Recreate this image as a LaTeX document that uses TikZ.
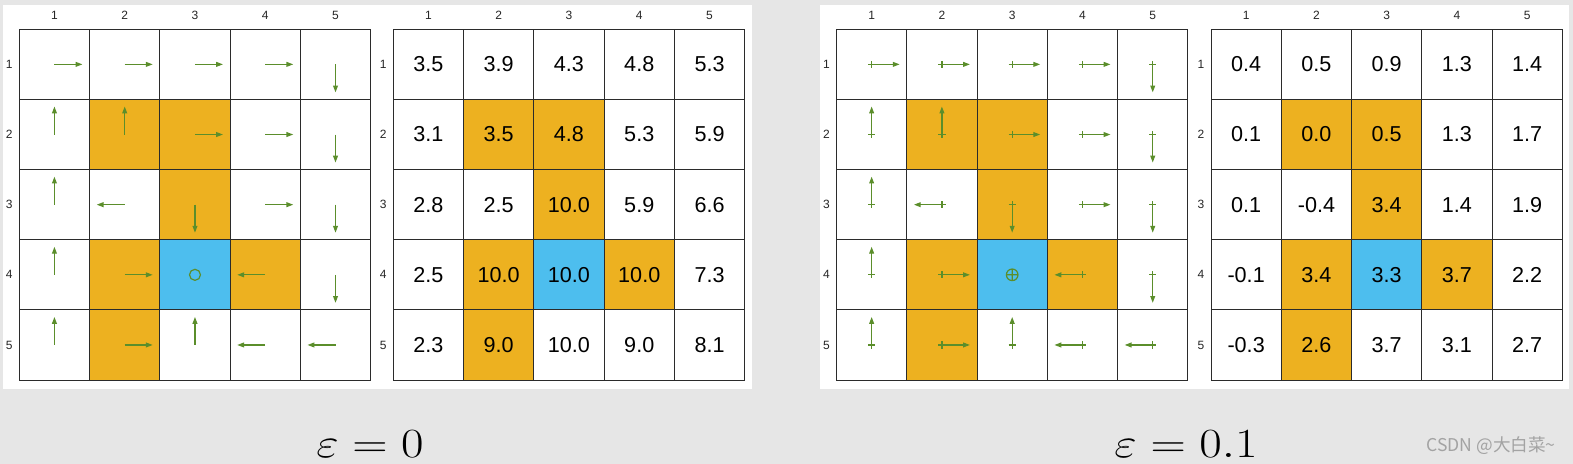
\documentclass[tikz,border=0pt]{standalone}
\usepackage{fontspec}
\usepackage{graphicx}
\usepackage{tikz}
\usetikzlibrary{arrows.meta}
\newfontfamily\numfont{Liberation Sans}
\newfontfamily\cjkfont{Noto Sans CJK SC}
\definecolor{paper}    {HTML}{E6E6E6}
\definecolor{cellOrange}{HTML}{EDB120}
\definecolor{cellBlue} {HTML}{4DBEEE}
\definecolor{actGreen} {HTML}{5B8E2B}
\definecolor{gridInk}  {HTML}{2B2B2B}
\definecolor{labelInk} {HTML}{262626}
\definecolor{markGray} {HTML}{A3A3A3}

\begin{document}
\begin{tikzpicture}[
  x=0.5pt, y=-0.5pt,
  cell/.style={rectangle, draw=gridInk, line width=0.5pt, inner sep=0pt,
               minimum width=35.135pt, minimum height=35.075pt,
               font=\numfont\fontsize{10.8}{12}\selectfont, text=black},
  idx/.style={inner sep=0pt, font=\numfont\fontsize{6}{7}\selectfont, text=labelInk},
  act/.style={draw=actGreen, line width=0.6pt, -{Triangle[length=3.4pt,width=2.4pt]}},
  stay/.style={draw=actGreen, line width=0.6pt},
  eps/.style={inner sep=0pt, anchor=base, font=\fontsize{20}{24}\selectfont}
]
% background and the two white panels
\fill[paper] (0,0) rectangle (1573,464);
\fill[white] (3,5) rectangle (752,389);
\fill[white] (820,5) rectangle (1569,389);

% policy grids
\foreach \p/\xp in {a/19.3, b/836.5} {
  \foreach \row [count=\r] in {{white,white,white,white,white},
                               {white,cellOrange,cellOrange,white,white},
                               {white,white,cellOrange,white,white},
                               {white,cellOrange,cellBlue,cellOrange,white},
                               {white,cellOrange,white,white,white}}
    \foreach \k [count=\c] in \row
      \node[cell, fill=\k] (p\p-\r-\c) at ({\xp+(\c-0.5)*70.27},{29.3+(\r-0.5)*70.15}) {};
}

% state values, epsilon = 0
\foreach \row [count=\r] in {{3.5/white,3.9/white,4.3/white,4.8/white,5.3/white},
                             {3.1/white,3.5/cellOrange,4.8/cellOrange,5.3/white,5.9/white},
                             {2.8/white,2.5/white,10.0/cellOrange,5.9/white,6.6/white},
                             {2.5/white,10.0/cellOrange,10.0/cellBlue,10.0/cellOrange,7.3/white},
                             {2.3/white,9.0/cellOrange,10.0/white,9.0/white,8.1/white}}
  \foreach \v/\k [count=\c] in \row
    \node[cell, fill=\k] (va-\r-\c) at ({393.3+(\c-0.5)*70.27},{29.3+(\r-0.5)*70.15}) {\v};

% state values, epsilon = 0.1
\foreach \row [count=\r] in {{0.4/white,0.5/white,0.9/white,1.3/white,1.4/white},
                             {0.1/white,0.0/cellOrange,0.5/cellOrange,1.3/white,1.7/white},
                             {0.1/white,-0.4/white,3.4/cellOrange,1.4/white,1.9/white},
                             {-0.1/white,3.4/cellOrange,3.3/cellBlue,3.7/cellOrange,2.2/white},
                             {-0.3/white,2.6/cellOrange,3.7/white,3.1/white,2.7/white}}
  \foreach \v/\k [count=\c] in \row
    \node[cell, fill=\k] (vb-\r-\c) at ({1211+(\c-0.5)*70.27},{29.3+(\r-0.5)*70.15}) {\v};

% row and column indices
\foreach \gx/\gn in {19.3/pa, 393.3/va, 836.5/pb, 1211/vb}
  \foreach \i in {1,...,5} {
    \node[idx] (\gn-top-\i) at ({\gx+(\i-0.5)*70.27},15) {\i};
    \node[idx] (\gn-side-\i) at ({\gx-10},{29.3+(\i-0.5)*70.15}) {\i};
  }

% actions
\foreach \p in {a,b} {
  \foreach \r/\c in {1/1,1/2,1/3,1/4,2/3,2/4,3/4,4/2,5/2}
    \draw[act] (p\p-\r-\c.center) -- ++(28,0);
  \foreach \r/\c in {3/2,4/4,5/4,5/5}
    \draw[act] (p\p-\r-\c.center) -- ++(-28,0);
  \foreach \r/\c in {2/1,2/2,3/1,4/1,5/1,5/3}
    \draw[act] (p\p-\r-\c.center) -- ++(0,-28);
  \foreach \r/\c in {1/5,2/5,3/3,3/5,4/5}
    \draw[act] (p\p-\r-\c.center) -- ++(0,28);
}
\foreach \r/\c in {1/1,1/2,1/3,1/4,1/5,2/1,2/2,2/3,2/4,2/5,3/1,3/2,3/3,3/4,3/5,
                   4/1,4/2,4/4,4/5,5/1,5/2,5/3,5/4,5/5}
  \draw[stay] (pb-\r-\c.center) +(-3.6,0) -- +(3.6,0) +(0,-3.6) -- +(0,3.6);

% target markers
\draw[stay] (pa-4-3.center) circle[radius=5.5];
\draw[stay] (pb-4-3.center) circle[radius=5.8] +(-5.8,0) -- +(5.8,0) +(0,-5.8) -- +(0,5.8);

% captions
\node[eps] (epsA) at (370,457) {\scalebox{1.18}[1]{$\varepsilon = 0$}};
\node[eps] (epsB) at (1186,457) {\scalebox{1.18}[1]{$\varepsilon = 0.1$}};
\node[inner sep=0pt, text=markGray, font=\cjkfont\fontsize{8.8}{10}\selectfont]
  (mark) at (1491,446) {CSDN @大白菜\textasciitilde};
\end{tikzpicture}
\end{document}
